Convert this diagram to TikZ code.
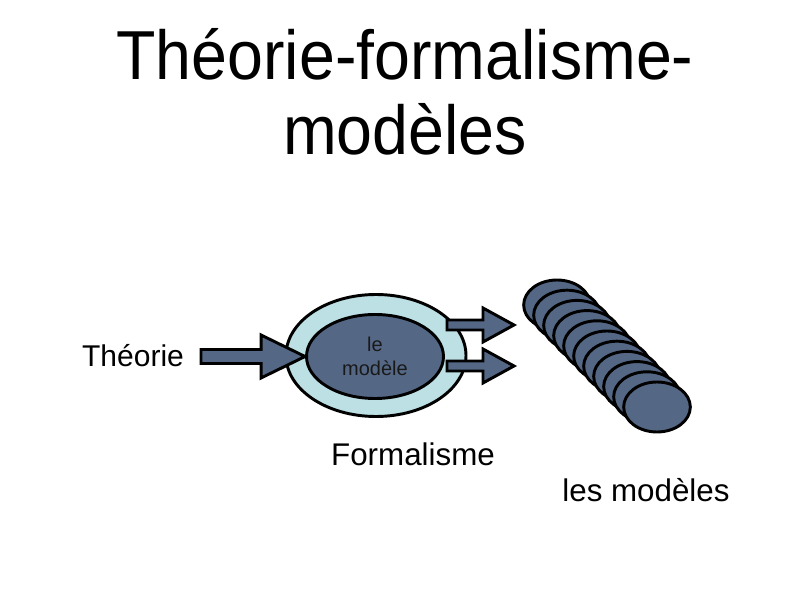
\documentclass[tikz,border=0pt]{standalone}
\usepackage{fontspec}
\setmainfont{Liberation Sans}
\usetikzlibrary{shapes.geometric,calc}
\definecolor{ardoise}{RGB}{84,104,134}
\definecolor{turquoise}{RGB}{188,224,228}
\tikzset{
  contour/.style={draw=black,line width=2.2pt},
  bulle/.style={contour,ellipse,inner sep=0pt},
  disque/.style={bulle,fill=ardoise,minimum width=50pt,minimum height=37.5pt},
  grosse fleche/.style={contour,fill=ardoise,line join=miter},
  legende/.style={anchor=base,font=\fontsize{23.5}{27}\selectfont},
  titre/.style={anchor=base,xscale=0.93,font=\fontsize{52}{60}\selectfont},
}
% fleche pleine de #1 a #2 : demi-tige #3, demi-tete #4, longueur de tete #5
\newcommand{\flechebloc}[5]{%
  \draw[grosse fleche] ($(#1)+(0,#3)$) -- ($(#2)+(-#5,#3)$) -- ($(#2)+(-#5,#4)$) -- (#2)
    -- ($(#2)+(-#5,-#4)$) -- ($(#2)+(-#5,-#3)$) -- ($(#1)+(0,-#3)$) -- cycle;}
\begin{document}
\begin{tikzpicture}[x=0.75pt,y=0.75pt]
\useasboundingbox (0,0) rectangle (800,600);
% titre
\node[titre] (titre1) at (405,520) {Théorie-formalisme-};
\node[titre] (titre2) at (405,445) {modèles};
% formalisme et modele
\node[bulle,fill=turquoise,minimum width=135pt,minimum height=91.5pt] (cadre) at (376,244.5) {};
\node[bulle,fill=ardoise,minimum width=102.75pt,minimum height=63pt,
  align=center,text=black!90,font=\fontsize{15}{18}\selectfont] (modele) at (375,243.5) {le\\modèle};
\node[legende,font=\fontsize{22.5}{26}\selectfont] (theorie) at (133,233) {Théorie};
\node[legende] (formalisme) at (413,134) {Formalisme};
% fleches
\coordinate (entree) at (201,243.5);
\coordinate (sortie1) at (447,275);
\coordinate (bout1) at (514,275);
\coordinate (sortie2) at (447,234);
\coordinate (bout2) at (514,234);
\flechebloc{entree}{modele.west}{7}{21.5}{44}
\flechebloc{sortie1}{bout1}{5}{17}{31}
\flechebloc{sortie2}{bout2}{5}{17}{31}
% les modeles
\foreach \i in {0,...,10}
  \node[disque] (m\i) at ({557+10*\i},{295-10.2*\i}) {};
\node[legende] (modeles) at (646,98) {les modèles};
\end{tikzpicture}
\end{document}
